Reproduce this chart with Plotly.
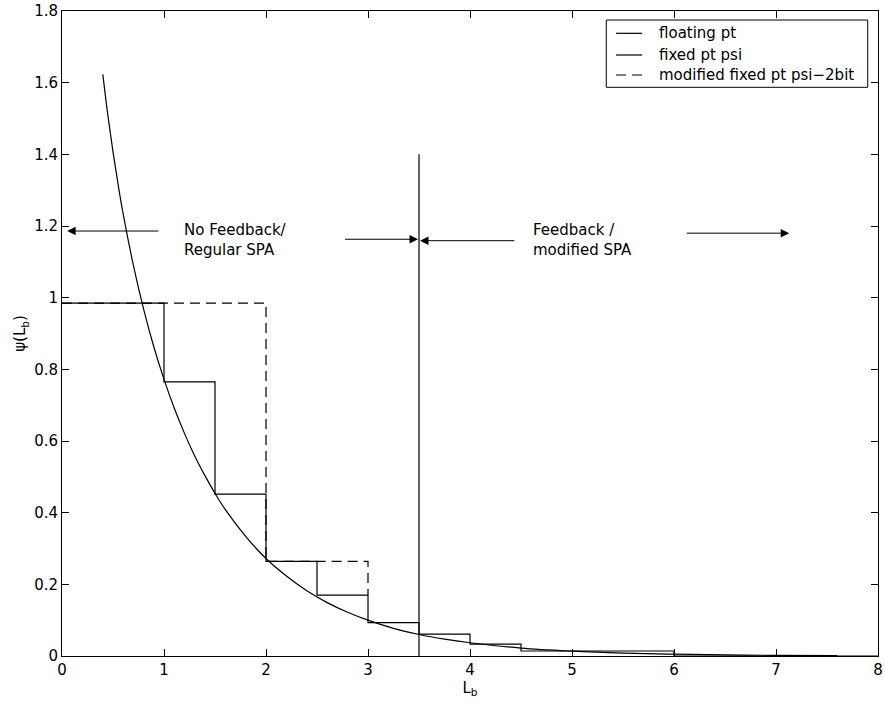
import plotly.graph_objects as go

# floating point curve
curve_x = [0.4, 0.45, 0.5, 0.55, 0.6, 0.7, 0.8, 0.9, 1.0, 1.1, 1.2, 1.3, 1.4, 1.5, 1.6,
           1.8, 2.0, 2.2, 2.4, 2.6, 2.8, 3.0, 3.25, 3.5, 3.75, 4.0, 4.5, 5.0, 5.5, 6.0,
           6.5, 7.0, 7.6]
curve_y = [1.623, 1.508, 1.407, 1.316, 1.233, 1.090, 0.968, 0.863, 0.772, 0.692, 0.622,
           0.559, 0.504, 0.454, 0.409, 0.334, 0.272, 0.223, 0.182, 0.149, 0.122, 0.100,
           0.077, 0.060, 0.047, 0.037, 0.022, 0.0135, 0.008, 0.005, 0.003, 0.0018, 0.001]

# fixed point psi (step function)
fixed_x = [0, 1, 1.5, 2, 2.5, 3, 3.5, 4, 4.5, 6, 8]
fixed_y = [0.985, 0.765, 0.452, 0.264, 0.170, 0.093, 0.061, 0.033, 0.014, 0, 0]

# modified fixed point psi-2bit
mod_x = [0, 2, 3]
mod_y = [0.985, 0.264, 0.170]

# feedback boundary
divider_x = [3.5, 3.5]
divider_y = [0, 1.4]

legend_names = ["floating pt", "fixed pt psi", "modified fixed pt psi\u22122bit"]
legend_dashes = ["solid", "solid", "10px,6px"]

FONT = "DejaVu Sans, Verdana, sans-serif"
FS = 15
DASH = "10px,6px"

fig = go.Figure()
fig.add_trace(go.Scatter(x=curve_x, y=curve_y, mode="lines", name=legend_names[0],
                         line=dict(color="black", width=1.2, shape="spline")))
fig.add_trace(go.Scatter(x=fixed_x, y=fixed_y, mode="lines", name=legend_names[1],
                         line=dict(color="black", width=1.2, shape="hv")))
fig.add_trace(go.Scatter(x=mod_x, y=mod_y, mode="lines", name=legend_names[2],
                         line=dict(color="black", width=1.2, shape="hv", dash=DASH)))
fig.add_trace(go.Scatter(x=divider_x, y=divider_y, mode="lines", showlegend=False,
                         line=dict(color="black", width=1.2)))

arrows = [
    (0.05, 1.186, 0.96, 1.186),
    (3.49, 1.163, 2.76, 1.163),
    (3.51, 1.159, 4.45, 1.159),
    (7.13, 1.180, 6.11, 1.180),
]
for tx, ty, sx, sy in arrows:
    fig.add_annotation(x=tx, y=ty, ax=sx, ay=sy, xref="x", yref="y", axref="x", ayref="y",
                       text="", showarrow=True, arrowhead=2, arrowsize=1.7, arrowwidth=1,
                       arrowcolor="black", standoff=0, startstandoff=0)

fig.add_annotation(x=1.18, y=1.161, xref="x", yref="y", text="No Feedback/<br>Regular SPA",
                   showarrow=False, xanchor="left", yanchor="middle", align="left",
                   font=dict(family=FONT, size=FS, color="black"))
fig.add_annotation(x=4.6, y=1.162, xref="x", yref="y", text="Feedback /<br>modified SPA",
                   showarrow=False, xanchor="left", yanchor="middle", align="left",
                   font=dict(family=FONT, size=FS, color="black"))

# legend box drawn in paper coordinates
fig.add_shape(type="rect", xref="paper", yref="paper", x0=0.667, x1=0.9874, y0=0.8817, y1=0.986,
              line=dict(color="black", width=1), fillcolor="white", layer="above")
row_y = [0.9654, 0.9318, 0.9008]
for name, dash, ry in zip(legend_names, legend_dashes, row_y):
    fig.add_shape(type="line", xref="paper", yref="paper", x0=0.679, x1=0.711, y0=ry, y1=ry,
                  line=dict(color="black", width=1.2, dash=dash), layer="above")
    fig.add_annotation(x=0.7293, y=ry, xref="paper", yref="paper", text=name, showarrow=False,
                       xanchor="left", yanchor="middle",
                       font=dict(family=FONT, size=FS, color="black"))

axis_common = dict(showline=True, linecolor="black", linewidth=1, mirror="ticks",
                   ticks="inside", ticklen=7, tickcolor="black", showgrid=False,
                   zeroline=False, ticklabeloverflow="allow", automargin=False,
                   tickfont=dict(family=FONT, size=FS, color="black"))

fig.update_xaxes(range=[0, 8], tickvals=[0, 1, 2, 3, 4, 5, 6, 7, 8],
                 title=dict(text="L<sub>b</sub>", font=dict(family=FONT, size=FS, color="black"),
                            standoff=4),
                 **axis_common)
fig.update_yaxes(range=[0, 1.8], tickvals=[0, 0.2, 0.4, 0.6, 0.8, 1, 1.2, 1.4, 1.6, 1.8],
                 ticktext=["0", "0.2", "0.4", "0.6", "0.8", "1", "1.2", "1.4", "1.6", "1.8"],
                 title=dict(text="\u03c8(L<sub>b</sub>)", font=dict(family=FONT, size=FS, color="black"),
                            standoff=4),
                 **axis_common)

fig.update_layout(
    width=885, height=713,
    margin=dict(l=62, r=7, t=11, b=57),
    plot_bgcolor="white", paper_bgcolor="white",
    font=dict(family=FONT, size=FS, color="black"),
    showlegend=False,
)

fig.write_html("out.html")
